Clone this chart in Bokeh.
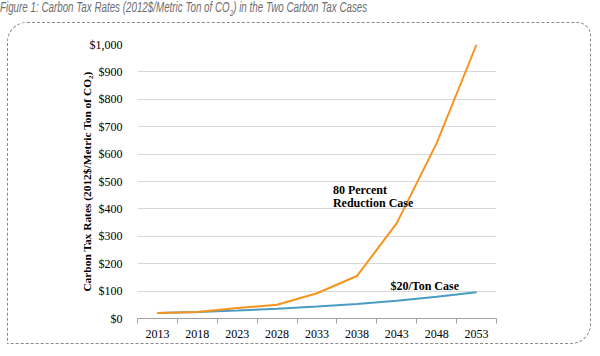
from bokeh.plotting import figure
from bokeh.models import Range1d, FixedTicker, NumeralTickFormatter, Label, Div
from bokeh.layouts import column
from bokeh.embed import file_html
from bokeh.resources import INLINE

years = [2013, 2018, 2023, 2028, 2033, 2038, 2043, 2048, 2053]
reduction_80 = [20, 24, 38, 50, 92, 155, 348, 640, 1000]
ton_20 = [20, 24, 29, 36, 44, 53, 65, 79, 96]
y_ticks = [0, 100, 200, 300, 400, 500, 600, 700, 800, 900, 1000]

ORANGE = "#F7941D"
BLUE = "#4A9CC2"
SERIF = "Liberation Serif"

half = (years[1] - years[0]) / 2
bounds = [y - half for y in years] + [years[-1] + half]

title = Div(
    text="Figure 1: Carbon Tax Rates (2012$/Metric Ton of CO<sub style='font-size:9px'>2</sub>) in the Two Carbon Tax Cases",
    width=584, height=22, margin=(0, 0, 0, 1),
    styles={"font-family": "'Liberation Sans', sans-serif",
            "font-style": "italic", "font-size": "14px", "color": "#6d6e71",
            "line-height": "15px", "margin": "0", "white-space": "nowrap",
            "transform": "scaleX(0.70)", "transform-origin": "left top"},
)

p = figure(
    width=584, height=322,
    output_backend="svg", toolbar_location=None,
    x_range=Range1d(bounds[0], bounds[-1]),
    y_range=Range1d(0, 1000),
    min_border_left=129, min_border_right=96, min_border_top=21, min_border_bottom=27,
    margin=(0, 0, 0, 7),
    styles={"border": "1px dashed #8a8a8a", "border-radius": "20px 14px 20px 0px"},
)
p.outline_line_color = None
p.background_fill_color = None
p.border_fill_color = None

p.line(years, ton_20, line_color=BLUE, line_width=2)
p.line(years, reduction_80, line_color=ORANGE, line_width=2)

# x axis
p.xaxis.ticker = FixedTicker(ticks=years, minor_ticks=bounds)
p.xaxis.axis_line_color = "#a0a0a0"
p.xaxis.major_tick_out = 0
p.xaxis.major_tick_in = 0
p.xaxis.minor_tick_out = 5
p.xaxis.minor_tick_in = 0
p.xaxis.minor_tick_line_color = "#a0a0a0"
p.xaxis.major_label_standoff = 6
p.xaxis.major_label_text_font = SERIF
p.xaxis.major_label_text_font_size = "12px"
p.xaxis.major_label_text_color = "#000000"
p.xgrid.grid_line_color = None

# y axis
p.yaxis.ticker = FixedTicker(ticks=y_ticks)
p.yaxis.formatter = NumeralTickFormatter(format="$0,0")
p.yaxis.axis_line_color = None
p.yaxis.major_tick_line_color = None
p.yaxis.minor_tick_line_color = None
p.yaxis.major_label_standoff = 9
p.yaxis.major_label_text_font = SERIF
p.yaxis.major_label_text_font_size = "12px"
p.yaxis.major_label_text_color = "#000000"
p.yaxis.axis_label = "Carbon Tax Rates (2012$/Metric Ton of CO₂)"
p.yaxis.axis_label_text_font = SERIF
p.yaxis.axis_label_text_font_style = "bold"
p.yaxis.axis_label_text_font_size = "11.4px"
p.yaxis.axis_label_text_color = "#000000"
p.yaxis.axis_label_standoff = -6
p.ygrid.grid_line_color = "#d9d9d9"
p.ygrid.grid_line_width = 1

label_style = dict(text_font=SERIF, text_font_style="bold", text_font_size="12px",
                   text_color="#000000", text_baseline="middle", text_align="left")
p.add_layout(Label(x=2035.0, y=470, text="80 Percent", **label_style))
p.add_layout(Label(x=2035.0, y=423, text="Reduction Case", **label_style))
p.add_layout(Label(x=2042.2, y=120, text="$20/Ton Case", **label_style))

layout = column(title, p, spacing=0)
open("out.html", "w").write(file_html(layout, INLINE))
